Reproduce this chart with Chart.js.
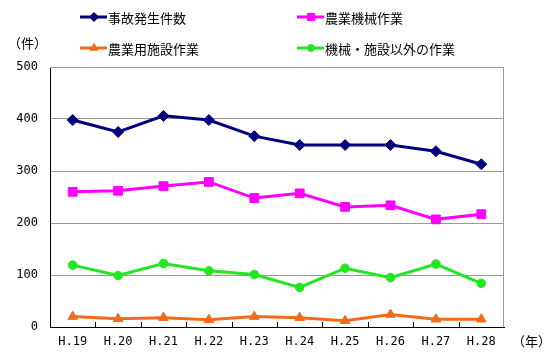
<!DOCTYPE html>
<html>
<head>
<meta charset="utf-8">
<script src="https://cdn.jsdelivr.net/npm/chart.js@4/dist/chart.umd.min.js"></script>
<style>
html,body{margin:0;padding:0;background:#fff;}
#wrap{width:550px;height:361px;position:relative;}
</style>
</head>
<body>
<div id="wrap"><canvas id="c" width="550" height="361"></canvas></div>
<script>
const categories = ['H.19','H.20','H.21','H.22','H.23','H.24','H.25','H.26','H.27','H.28'];
const seriesNames = ['事故発生件数','農業機械作業','農業用施設作業','機械・施設以外の作業'];
const totalAccidents = [398,375,406,398,367,350,350,350,338,313];
const machineryWork = [260,262,271,279,248,257,231,234,207,217];
const facilityWork = [20,16,18,14,20,18,12,24,15,15];
const otherWork = [119,99,122,108,101,76,113,95,121,84];
const yTicks = [0,100,200,300,400,500];
const yUnit = '（件）';
const xUnit = '（年）';

const FONT = '"Noto Sans CJK JP", "DejaVu Sans", sans-serif';
const MONO = '"DejaVu Sans Mono", "Liberation Mono", monospace';

const decor = {
  id: 'decor',
  afterDraw(chart) {
    const ctx = chart.ctx;
    const a = chart.chartArea;
    const xs = chart.scales.x;
    ctx.save();
    ctx.strokeStyle = '#999';
    ctx.lineWidth = 1;
    ctx.beginPath();
    ctx.moveTo(a.left, a.top + 0.5);
    ctx.lineTo(a.right - 0.5, a.top + 0.5);
    ctx.lineTo(a.right - 0.5, a.bottom);
    ctx.stroke();
    ctx.strokeStyle = '#000';
    ctx.beginPath();
    for (let i = 1; i < categories.length; i++) {
      const x = Math.round((xs.getPixelForValue(i - 1) + xs.getPixelForValue(i)) / 2) + 0.5;
      ctx.moveTo(x, a.bottom);
      ctx.lineTo(x, a.bottom - 5);
    }
    ctx.stroke();
    ctx.fillStyle = '#000';
    ctx.font = '13px ' + FONT;
    ctx.textBaseline = 'middle';
    ctx.textAlign = 'left';
    ctx.fillText(yUnit, 8, 43);
    ctx.fillText(xUnit, 512, 341);
    const pos = [[80, 17], [297, 17], [80, 48], [297, 48]];
    const legR = [4.5, 5, 4.5, 3.5];
    chart.data.datasets.forEach((ds, i) => {
      const [lx, ly] = pos[i];
      ctx.strokeStyle = ds.borderColor;
      ctx.lineWidth = 3;
      ctx.beginPath();
      ctx.moveTo(lx, ly);
      ctx.lineTo(lx + 27, ly);
      ctx.stroke();
      ctx.fillStyle = ds.backgroundColor;
      ctx.lineWidth = 1;
      Chart.helpers.drawPoint(ctx, {
        pointStyle: ds.pointStyle, radius: legR[i], rotation: 0, borderWidth: 1
      }, lx + 14, ly);
      ctx.fillStyle = '#000';
      ctx.fillText(ds.label, lx + 28, ly + 1);
    });
    ctx.restore();
  }
};

const mk = (label, data, color, style, r) => ({
  label, data,
  borderColor: color, backgroundColor: color,
  pointBackgroundColor: color, pointBorderColor: color,
  pointStyle: style, pointRadius: r, pointHoverRadius: r, pointBorderWidth: 1,
  borderWidth: 3, tension: 0
});

new Chart(document.getElementById('c'), {
  type: 'line',
  data: {
    labels: categories,
    datasets: [
      mk(seriesNames[0], totalAccidents, '#000080', 'rectRot', 5.5),
      mk(seriesNames[1], machineryWork, '#FF00FF', 'rect', 6.2),
      mk(seriesNames[2], facilityWork, '#F26B1D', 'triangle', 5.5),
      mk(seriesNames[3], otherWork, '#22E622', 'circle', 4.3)
    ]
  },
  options: {
    responsive: false,
    animation: false,
    devicePixelRatio: 1,
    layout: { padding: { top: 67, right: 46, left: 0, bottom: 0 } },
    plugins: { legend: { display: false }, tooltip: { enabled: false } },
    scales: {
      x: {
        offset: true,
        grid: { display: false, drawTicks: false },
        border: { color: '#000', width: 1 },
        ticks: { color: '#000', font: { family: MONO, size: 12 }, padding: 8, maxRotation: 0, autoSkip: false },
        afterFit(s) { s.height = 34; }
      },
      y: {
        min: 0, max: 500,
        afterBuildTicks(s) { s.ticks = yTicks.map(v => ({ value: v })); },
        grid: { color: '#999', drawTicks: false, lineWidth: 1 },
        border: { color: '#000', width: 1 },
        ticks: { color: '#000', font: { family: MONO, size: 12 }, padding: 12 },
        afterFit(s) { s.width = 50; }
      }
    }
  },
  plugins: [decor]
});
</script>
</body>
</html>
